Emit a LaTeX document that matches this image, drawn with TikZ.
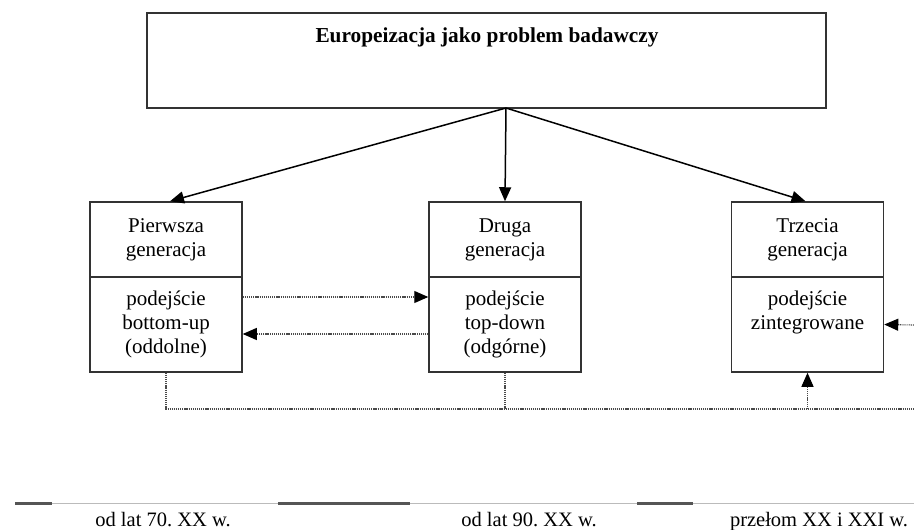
\documentclass[tikz,border=0pt]{standalone}
\usepackage{fontspec}
\setmainfont{Liberation Serif}
\usetikzlibrary{arrows.meta}
\definecolor{boxc}{HTML}{333333}
\definecolor{dotc}{HTML}{4A4A4A}
\definecolor{axisc}{HTML}{BBBBBB}
\definecolor{segc}{HTML}{555555}
\begin{document}
\begin{tikzpicture}[x=1pt,y=-1pt,
  box/.style={draw=boxc,line width=1.5pt,minimum width=152pt,inner sep=0pt,align=center,
    font=\fontsize{21}{24}\selectfont},
  headbox/.style={box,minimum height=75pt},
  bodybox/.style={box,minimum height=95pt},
  mainarrow/.style={line width=1.5pt,-{Triangle[length=14pt,width=12pt]}},
  dotline/.style={draw=dotc,line width=1.1pt,dash pattern=on 1.2pt off 0.9pt},
  dotarrow/.style={dotline,-{Triangle[length=14pt,width=12pt,color=black,fill=black]}},
  period/.style={anchor=base,inner sep=0pt,font=\fontsize{20.5}{24}\selectfont},
  axis/.style={draw=axisc,line width=1pt},
  seg/.style={draw=segc,line width=3pt}]
\fill[white] (0,0) rectangle (914,530);
\useasboundingbox (0,0) rectangle (914,530);

% top box
\node[draw=boxc,line width=1.5pt,minimum width=679pt,minimum height=95pt,inner sep=0pt] (top) at (486.5,60.5) {};
\node[anchor=base,inner sep=0pt,font=\fontsize{21.3}{24}\selectfont\bfseries] (title) at (487,42) {Europeizacja jako problem badawczy};
\coordinate (origin) at (506,108);

% generation boxes
\node[headbox] (g1h) at (166,239.5) {\strut Pierwsza\\\strut generacja};
\node[bodybox] (g1b) at (166,324.5) {\strut podejście\\\strut bottom-up\\\strut (oddolne)};
\node[headbox] (g2h) at (505,239.5) {\strut Druga\\\strut generacja};
\node[bodybox] (g2b) at (505,324.5) {\strut podejście\\\strut top-down\\\strut (odgórne)};
\node[headbox] (g3h) at (807.5,239.5) {\strut Trzecia\\\strut generacja};
\node[bodybox] (g3b) at (807.5,324.5) {\strut podejście\\\strut zintegrowane\\\strut\mbox{}};

% arrows from top
\draw[mainarrow] (origin) -- ([xshift=4pt]g1h.north);
\draw[mainarrow] (origin) -- (g2h.north);
\draw[mainarrow] (origin) -- ([xshift=-2pt]g3h.north);

% dotted connectors
\draw[dotarrow] ([yshift=27.5pt]g1b.east) -- ([yshift=27.5pt]g2b.west);
\draw[dotarrow] ([yshift=-9.5pt]g2b.west) -- ([yshift=-9.5pt]g1b.east);
\coordinate (rin) at (914,325);
\draw[dotarrow] (rin) -- (g3b.east);
\coordinate (rb) at (914,409);
\draw[dotline] (g1b.south) |- (rb);
\draw[dotline] (g2b.south) -- (g2b.south |- rb);
\draw[dotarrow] (g3b.south |- rb) -- (g3b.south);

% timeline
\draw[axis] (15,503) -- (914,503);
\draw[seg] (15,503) -- (52,503);
\draw[seg] (278,503) -- (410,503);
\draw[seg] (637,503) -- (693,503);
\node[period] (p1) at (163,526) {od lat 70.\ XX w.};
\node[period] (p2) at (529,526) {od lat 90.\ XX w.};
\node[period] (p3) at (819,526) {przełom XX i XXI w.};
\end{tikzpicture}
\end{document}
